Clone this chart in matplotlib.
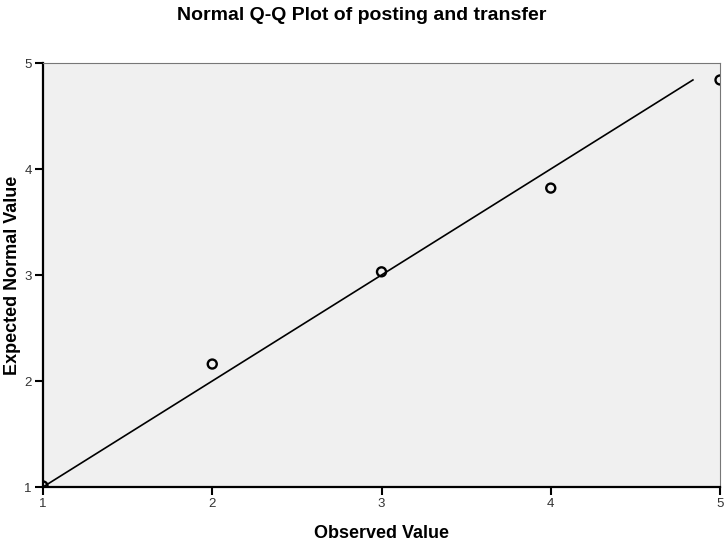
import matplotlib.pyplot as plt

plt.rcParams['font.family'] = ['Liberation Sans', 'DejaVu Sans']

# observed values and their expected normal quantiles
observed = [1, 2, 3, 4, 5]
expected = [1.01, 2.16, 3.03, 3.82, 4.84]
# reference line
line_x = [1, 4.84]
line_y = [1, 4.84]
ticks = [1, 2, 3, 4, 5]

fig = plt.figure(figsize=(7.24, 5.42), dpi=100)
ax = fig.add_axes([43 / 724, 1 - 487 / 542, 677 / 724, 424 / 542])
ax.set_facecolor('#f0f0f0')

ax.plot(line_x, line_y, color='black', linewidth=1.2)
ax.scatter(observed, expected, s=42, facecolors='none', edgecolors='black',
           linewidths=1.7, zorder=3)

ax.set_xlim(1, 5)
ax.set_ylim(1, 5)
ax.set_xticks(ticks)
ax.set_yticks(ticks)
ax.tick_params(direction='out', length=6, width=1.5, labelsize=9.5,
               labelcolor='#333333', pad=2)

for s in ['left', 'bottom']:
    ax.spines[s].set_linewidth(1.6)
    ax.spines[s].set_color('black')
for s in ['top', 'right']:
    ax.spines[s].set_linewidth(0.8)
    ax.spines[s].set_color('#777777')

ax.set_xlabel('Observed Value', fontsize=13, fontweight='bold')
ax.set_ylabel('Expected Normal Value', fontsize=13, fontweight='bold')
ax.xaxis.set_label_coords((381 - 43) / 677, -(534 - 487) / 424)
ax.yaxis.set_label_coords(-(43 - 13) / 677, 0.5)
ax.xaxis.label.set_va('center')
ax.yaxis.label.set_va('center')
fig.text(0.5, 1 - 15 / 542, 'Normal Q-Q Plot of posting and transfer',
         ha='center', va='center', fontsize=14, fontweight='bold')

fig.savefig('out.png', dpi=100)
